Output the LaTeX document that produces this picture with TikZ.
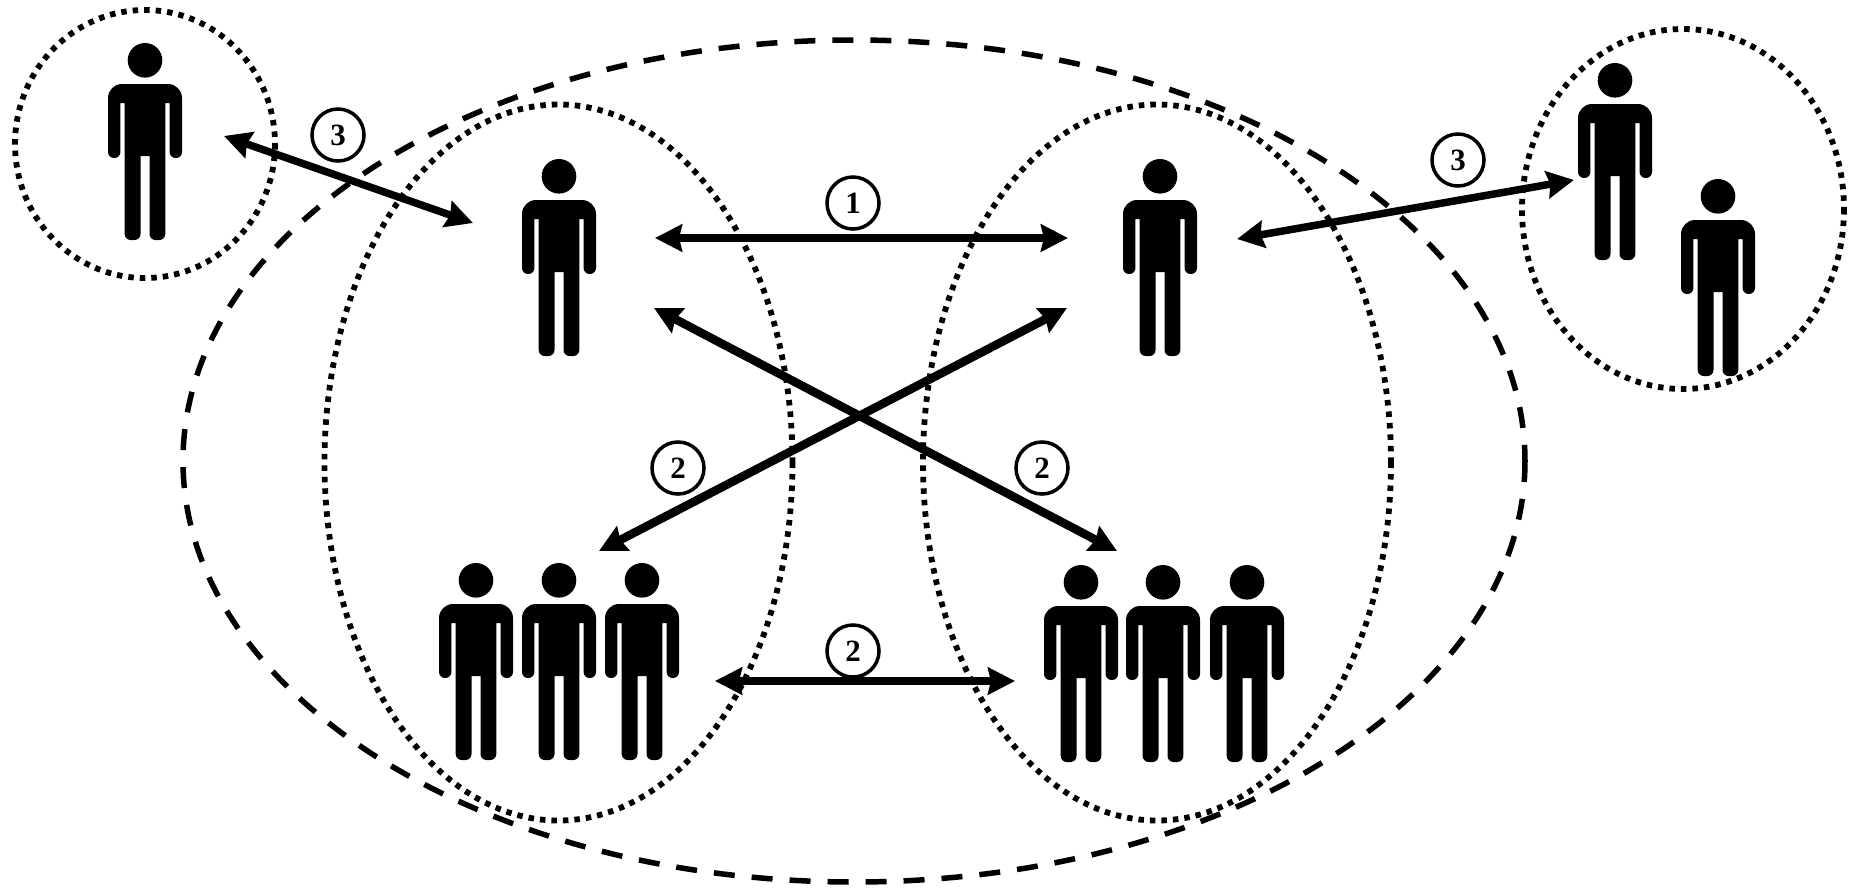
\documentclass[tikz,border=0pt]{standalone}
\usepackage{fontspec}
\setmainfont{Liberation Serif}
\usetikzlibrary{arrows.meta}
\tikzset{
  person/.pic={
    \fill (0,17.3) circle [radius=17.3];
    \fill [rounded corners=0.14cm] (0,41) -- (-37,41) [rounded corners=0.06cm] -- (-37,115) -- (-24.6,115) [sharp corners] -- (-24.6,60) -- (-20.3,60) [rounded corners=0.06cm] -- (-20.3,197) -- (-4.5,197) [sharp corners] -- (-4.5,113) -- (4.5,113) [rounded corners=0.06cm] -- (4.5,197) -- (20.3,197) [sharp corners] -- (20.3,60) -- (24.6,60) [rounded corners=0.06cm] -- (24.6,115) -- (37,115) [rounded corners=0.14cm] -- (37,41) -- cycle;
  },
  dotring/.style={line width=0.058cm,dash pattern=on 0.055cm off 0.06cm},
  dashring/.style={line width=0.055cm,dash pattern=on 0.21cm off 0.17cm},
  link/.style={line width=0.075cm,{Stealth[length=0.27cm,width=0.27cm,inset=0.03cm]}-{Stealth[length=0.27cm,width=0.27cm,inset=0.03cm]}},
  crosslink/.style={link,line width=0.085cm},
  numlabel/.style={draw,circle,line width=0.035cm,minimum size=0.52cm,inner sep=0pt,font=\fontsize{8.8}{10}\bfseries\selectfont}
}
\begin{document}
\begin{tikzpicture}[x=0.01cm,y=-0.01cm]
  \useasboundingbox (0,0) rectangle (1850,887);
  \draw[dashring] (854,461) ellipse [x radius=671,y radius=421];
  \draw[dotring] (145,144) ellipse [x radius=130,y radius=134];
  \draw[dotring] (1683,209) ellipse [x radius=161,y radius=180];
  \draw[dotring] (558.5,462.5) ellipse [x radius=234,y radius=358];
  \draw[dotring] (1157,462.5) ellipse [x radius=234,y radius=358];
  \pic (solo) at (145,43) {person};
  \pic (leftone) at (559,159) {person};
  \pic (rightone) at (1160,159) {person};
  \pic (pairback) at (1615,63) {person};
  \pic (pairfront) at (1718,179) {person};
  \pic (lefta) at (476,563) {person};
  \pic (leftb) at (559,563) {person};
  \pic (leftc) at (642,563) {person};
  \pic (righta) at (1081,565) {person};
  \pic (rightb) at (1163,565) {person};
  \pic (rightc) at (1247,565) {person};
  \coordinate (soloend) at (224,136);
  \coordinate (leftoneout) at (473,223);
  \coordinate (leftoneside) at (655,238);
  \coordinate (leftonelow) at (654,308);
  \coordinate (rightoneside) at (1068,238);
  \coordinate (rightonelow) at (1067,308);
  \coordinate (rightoneout) at (1237,239);
  \coordinate (pairend) at (1574,180);
  \coordinate (leftgrouptop) at (599,551);
  \coordinate (leftgroupside) at (715,681);
  \coordinate (rightgrouptop) at (1117,551);
  \coordinate (rightgroupside) at (1015,681);
  \begin{scope}[link]
    \draw (soloend) to (leftoneout);
    \draw (leftoneside) to (rightoneside);
    \draw (rightoneout) to (pairend);
    \draw (leftgroupside) to (rightgroupside);
  \end{scope}
  \begin{scope}[crosslink]
    \draw (leftonelow) to (rightgrouptop);
    \draw (rightonelow) to (leftgrouptop);
  \end{scope}
  \node[numlabel] (soloedge) at (338,135) {3};
  \node[numlabel] (topedge) at (853,203) {1};
  \node[numlabel] (pairedge) at (1458,160) {3};
  \node[numlabel] (leftcross) at (678,468) {2};
  \node[numlabel] (rightcross) at (1042,468) {2};
  \node[numlabel] (lowedge) at (853,651) {2};
\end{tikzpicture}
\end{document}
